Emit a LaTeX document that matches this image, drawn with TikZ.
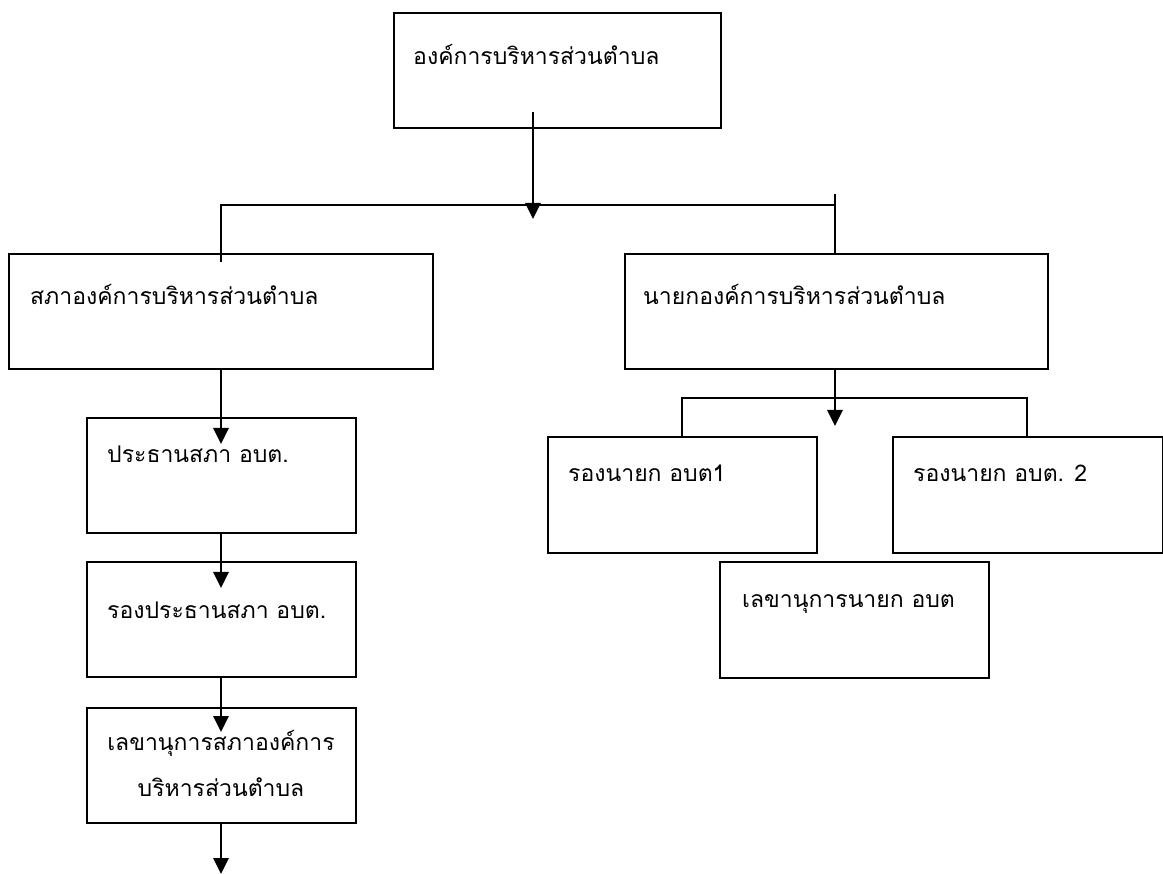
\documentclass[tikz,border=0pt]{standalone}
\usepackage{fontspec}
\newfontfamily\thaifont[Script=Thai]{Loma}
\usetikzlibrary{arrows.meta,calc}
\tikzset{
  box/.style={draw=black, line width=1.9pt, fill=white, inner sep=0pt, anchor=north west},
  conn/.style={draw=black, line width=1.8pt},
  arr/.style={draw=black, line width=2.8pt, -{Triangle[width=15pt,length=16pt]}},
  bigtxt/.style={font=\thaifont\fontsize{23}{28}\selectfont, inner sep=0pt, anchor=base west},
  smalltxt/.style={font=\thaifont\fontsize{23}{28}\selectfont, inner sep=0pt, anchor=base west},
}
\begin{document}
\begin{tikzpicture}[x=1pt,y=-1pt]
\useasboundingbox (0,0) rectangle (1163,874);
% boxes
\node[box, minimum width=327pt, minimum height=115pt] (top) at (393,12) {};
\node[box, minimum width=424pt, minimum height=115pt] (sapha) at (8,253) {};
\node[box, minimum width=423pt, minimum height=115pt] (nayok) at (624,253) {};
\node[box, minimum width=269pt, minimum height=115pt] (prathan) at (86,417) {};
\node[box, minimum width=269pt, minimum height=115pt] (rong) at (86,561) {};
\node[box, minimum width=269pt, minimum height=115pt] (lekha) at (86,707) {};
\node[box, minimum width=269pt, minimum height=116pt] (rn1) at (547,436) {};
\node[box, minimum width=270pt, minimum height=116pt] (rn2) at (892,436) {};
\node[box, minimum width=269pt, minimum height=116pt] (ln) at (719,561) {};
% texts
\node[bigtxt] (top-t) at (413,65) {องค์การบริหารส่วนตำบล};
\node[bigtxt] (sapha-t) at (30,305) {สภาองค์การบริหารส่วนตำบล};
\node[bigtxt] (nayok-t) at (643,305) {นายกองค์การบริหารส่วนตำบล};
\node[bigtxt] (prathan-t) at (107,463) {ประธานสภา อบต.};
\node[bigtxt] (rong-t) at (107,618) {รองประธานสภา อบต.};
\node[bigtxt, anchor=base] (lekha-t1) at (221,750) {เลขานุการสภาองค์การ};
\node[bigtxt, anchor=base] (lekha-t2) at (221,796) {บริหารส่วนตำบล};
\node[smalltxt] (rn1-t) at (568,482) {รองนายก อบต1};
\node[smalltxt] (rn2-t) at (913,482) {รองนายก อบต. 2};
\node[smalltxt] (ln-t) at (742,608) {เลขานุการนายก อบต};
% junction coordinates
\coordinate (a0) at (533,112);
\coordinate (a0e) at (533,219);
\coordinate (hL) at (221,205);
\coordinate (hR) at (835,205);
\coordinate (hRt) at (835,194);
\coordinate (s1) at (221,262);
\coordinate (b1e) at (221,444);
\coordinate (b2e) at (221,588);
\coordinate (b3e) at (221,732);
\coordinate (b4e) at (221,874);
\coordinate (n0e) at (835,426);
\coordinate (r1) at (682,398);
\coordinate (r2) at (1027,398);
% connectors
\draw[conn] (hL |- s1) -- (hL) -- (hR);
\draw[conn] (hRt) -- (hR |- nayok.north);
\draw[arr] (a0) -- (a0e);
\draw[arr] (b1e |- sapha.south) -- (b1e);
\draw[arr] (b2e |- prathan.south) -- (b2e);
\draw[arr] (b3e |- rong.south) -- (b3e);
\draw[arr] (b4e |- lekha.south) -- (b4e);
\draw[arr] (n0e |- nayok.south) -- (n0e);
\draw[conn] (r1 |- rn1.north) -- (r1) -- (r2) -- (r2 |- rn2.north);
\end{tikzpicture}
\end{document}
